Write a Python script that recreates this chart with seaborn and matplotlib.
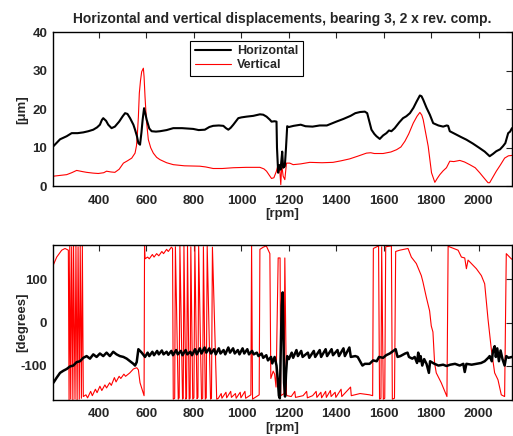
import numpy as np
import pandas as pd
import matplotlib
matplotlib.use("Agg")
import matplotlib.pyplot as plt
import seaborn as sns

# amplitude, horizontal (black) [rpm, um]
h_rpm = [208, 236, 264, 285, 310, 334, 355, 376, 392, 404, 412, 418, 430, 439, 453, 467, 485, 500, 510,
         520, 531, 545, 552, 560, 566, 573, 579, 584, 590, 595, 601, 612, 622, 640, 657, 685, 713, 750,
         797, 820, 846, 865, 881, 905, 924, 935, 945, 955, 966, 987, 1000, 1022, 1050, 1078, 1092, 1106,
         1120, 1127, 1140, 1148, 1150, 1155, 1160, 1165, 1169, 1172, 1176, 1180, 1183, 1188, 1193, 1200,
         1220, 1250, 1270, 1300, 1330, 1360, 1400, 1430, 1460, 1480, 1500, 1520, 1530, 1548, 1560, 1569,
         1583, 1597, 1611, 1622, 1632, 1646, 1665, 1681, 1695, 1710, 1725, 1738, 1752, 1759, 1766, 1780,
         1794, 1808, 1830, 1850, 1865, 1871, 1878, 1900, 1925, 1948, 1975, 2004, 2025, 2046, 2060, 2074,
         2090, 2102, 2112, 2124, 2132, 2140]
h_amp = [10.4, 12.2, 13.0, 13.8, 13.8, 14.0, 14.3, 14.7, 15.3, 16.0, 17.2, 17.7, 17.0, 16.0, 15.1, 15.5,
         16.8, 18.2, 19.0, 18.8, 17.7, 16.0, 14.7, 13.0, 11.2, 10.8, 14.0, 17.3, 20.3, 19.0, 17.3, 15.0,
         14.3, 14.2, 14.3, 14.6, 15.1, 15.1, 14.9, 14.6, 14.7, 15.4, 15.7, 15.8, 15.7, 15.1, 14.7, 15.2,
         16.0, 17.7, 17.9, 18.1, 18.3, 18.7, 18.6, 18.1, 17.3, 16.8, 16.9, 16.8, 10.0, 3.5, 5.5, 4.3, 7.0,
         9.0, 4.8, 5.0, 5.2, 10.0, 15.6, 15.4, 15.7, 16.0, 15.6, 15.5, 15.8, 15.8, 16.8, 17.5, 18.3, 19.0,
         19.3, 19.4, 19.0, 14.7, 13.6, 13.0, 12.3, 13.2, 13.8, 14.5, 14.3, 15.1, 16.6, 17.7, 18.2, 19.0,
         20.4, 22.0, 23.6, 23.4, 22.5, 20.4, 18.6, 16.4, 15.8, 15.5, 15.8, 15.7, 14.3, 13.6, 12.8, 12.1,
         11.1, 9.9, 9.0, 7.8, 8.4, 9.1, 9.6, 10.4, 11.2, 13.8, 14.2, 15.1]

# amplitude, vertical (red) [rpm, um]
v_rpm = [208, 236, 264, 285, 306, 330, 348, 375, 397, 420, 432, 450, 467, 485, 503, 520, 538, 552, 558,
         562, 566, 570, 575, 580, 587, 590, 594, 600, 608, 618, 629, 643, 657, 685, 713, 760, 825, 850,
         881, 920, 966, 1020, 1078, 1095, 1106, 1118, 1127, 1137, 1147, 1155, 1162, 1166, 1170, 1176, 1183,
         1190, 1204, 1218, 1250, 1288, 1340, 1386, 1420, 1456, 1490, 1527, 1545, 1560, 1597, 1630, 1654,
         1672, 1689, 1705, 1724, 1740, 1752, 1760, 1766, 1776, 1787, 1801, 1815, 1825, 1836, 1850, 1864,
         1878, 1895, 1920, 1940, 1962, 1985, 2004, 2020, 2039, 2046, 2060, 2074, 2092, 2109, 2125, 2140]
v_amp = [2.6, 2.8, 3.0, 3.5, 4.1, 3.8, 3.6, 3.4, 3.3, 3.5, 3.9, 3.7, 3.6, 4.4, 6.0, 6.6, 7.3, 8.6, 10.5,
         13.8, 18.0, 24.2, 27.5, 29.8, 30.7, 28.5, 23.3, 17.0, 12.1, 10.0, 8.6, 7.5, 6.9, 6.1, 5.6, 5.3,
         5.2, 5.0, 4.6, 4.6, 4.8, 4.9, 4.9, 4.5, 3.9, 2.8, 2.0, 2.2, 3.8, 5.6, 3.9, 0.4, 5.6, 2.6, 1.7, 6.0,
         6.0, 5.6, 5.8, 6.2, 6.1, 6.2, 6.6, 7.1, 7.8, 8.6, 8.7, 8.5, 8.5, 8.9, 9.5, 10.2, 11.7, 13.6, 16.4,
         18.2, 19.2, 18.5, 17.3, 14.0, 10.4, 3.5, 1.0, 2.0, 3.0, 4.0, 4.8, 6.5, 6.4, 6.7, 6.3, 5.6, 4.8,
         3.5, 2.3, 0.9, 0.9, 2.4, 3.9, 5.6, 7.3, 7.9, 8.0]

# phase, horizontal (black) [rpm, deg]
hp_rpm = [208, 222, 236, 250, 264, 278, 292, 306, 320, 334, 348, 362, 376, 390, 404, 418, 432, 446, 460,
          474, 488, 503, 517, 531, 545, 552, 559, 566, 573, 580, 594, 605, 612, 625, 632, 645, 652, 665,
          672, 685, 692, 705, 712, 725, 732, 745, 752, 765, 772, 785, 792, 805, 812, 825, 832, 845, 852,
          865, 872, 885, 892, 905, 912, 925, 932, 945, 952, 965, 972, 985, 992, 1005, 1012, 1025, 1032,
          1045, 1052, 1065, 1072, 1085, 1092, 1105, 1112, 1125, 1130, 1140, 1148, 1153, 1158, 1162, 1166,
          1170, 1174, 1177, 1180, 1184, 1188, 1193, 1200, 1212, 1218, 1232, 1238, 1252, 1258, 1280, 1286,
          1305, 1311, 1330, 1336, 1355, 1361, 1380, 1386, 1405, 1411, 1430, 1436, 1455, 1461, 1480, 1490,
          1500, 1510, 1520, 1540, 1555, 1570, 1580, 1597, 1610, 1625, 1640, 1650, 1658, 1670, 1690, 1700,
          1706, 1720, 1730, 1740, 1745, 1750, 1755, 1762, 1770, 1780, 1790, 1795, 1810, 1830, 1850, 1864,
          1880, 1900, 1920, 1935, 1941, 1948, 1970, 1990, 2010, 2025, 2040, 2046, 2055, 2060, 2067, 2072,
          2078, 2085, 2092, 2100, 2109, 2116, 2125, 2140]
hp_deg = [-140, -128, -117, -112, -108, -102, -100, -92, -90, -82, -78, -84, -74, -80, -72, -78, -70, -78,
          -68, -74, -78, -80, -84, -90, -96, -100, -92, -62, -66, -70, -80, -70, -78, -68, -76, -66, -74,
          -65, -74, -68, -75, -66, -76, -64, -74, -66, -76, -64, -74, -68, -76, -62, -74, -60, -72, -58,
          -70, -60, -72, -62, -74, -60, -72, -64, -74, -58, -70, -60, -72, -64, -74, -60, -72, -62, -74,
          -66, -74, -70, -78, -72, -82, -76, -88, -80, -95, -80, -100, -130, -170, -176, -60, 40, 70, -20,
          -140, -172, -120, -78, -85, -70, -82, -64, -78, -66, -80, -70, -82, -66, -80, -64, -80, -62, -78,
          -62, -76, -64, -78, -60, -78, -58, -80, -78, -80, -90, -100, -96, -96, -88, -90, -80, -82, -76,
          -72, -66, -62, -80, -78, -72, -70, -80, -84, -80, -94, -70, -90, -78, -100, -85, -96, -117, -90,
          -95, -100, -98, -101, -98, -96, -100, -96, -115, -96, -98, -96, -94, -90, -82, -78, -90, -66, -55,
          -80, -60, -90, -65, -85, -100, -78, -82, -80]

# phase, vertical (red) [rpm, deg]
vp_rpm = [208, 222, 243, 257, 271, 274, 277, 281, 285, 290, 293, 299, 303, 308, 312, 317, 321, 326, 330,
          334, 345, 352, 365, 372, 385, 392, 404, 412, 425, 432, 445, 452, 465, 472, 485, 492, 505, 512,
          530, 545, 559, 566, 573, 586, 590, 592, 594, 605, 612, 625, 632, 643, 652, 665, 672, 685, 692,
          705, 710, 713, 719, 722, 734, 738, 741, 752, 755, 758, 766, 769, 773, 780, 784, 787, 795, 800,
          804, 813, 817, 820, 832, 837, 840, 848, 852, 856, 870, 874, 878, 896, 903, 915, 918, 935, 938,
          955, 958, 975, 978, 995, 998, 1015, 1018, 1040, 1043, 1047, 1075, 1078, 1092, 1105, 1110, 1120,
          1124, 1134, 1140, 1146, 1155, 1163, 1166, 1180, 1183, 1190, 1193, 1210, 1225, 1228, 1260, 1275,
          1278, 1300, 1315, 1318, 1335, 1338, 1355, 1358, 1375, 1378, 1395, 1398, 1420, 1423, 1460, 1463,
          1500, 1540, 1553, 1556, 1578, 1582, 1588, 1591, 1598, 1604, 1608, 1632, 1636, 1645, 1650, 1667,
          1702, 1716, 1737, 1758, 1765, 1779, 1793, 1800, 1807, 1814, 1821, 1842, 1866, 1871, 1876, 1913,
          1927, 1941, 1948, 1955, 1990, 2011, 2025, 2039, 2053, 2067, 2081, 2088, 2095, 2109, 2116, 2137,
          2140]
vp_deg = [134, 152, 168, 172, 168, -180, 178, -178, 176, -180, 178, -178, 177, -180, 176, -178, 178, -176,
          178, -172, -168, -175, -160, -170, -155, -163, -148, -158, -145, -152, -140, -146, -128, -138,
          -125, -130, -120, -125, -117, -108, -105, -110, -140, -163, -170, 178, 148, 152, 148, 158, 152,
          160, 155, 165, 160, 170, 165, 175, 172, -178, -176, 176, -178, -175, 178, -178, -176, 178, -178,
          -174, 177, -178, -176, 176, -178, -175, 178, -177, -174, 177, -178, -176, 176, -178, -175, 177,
          -178, -176, 175, -178, -176, -165, -176, -162, -175, -160, -174, -165, -176, -162, -175, -160,
          -176, -168, 178, -178, -168, 170, 175, 178, 172, 160, -130, -113, -120, -150, 150, 150, -170,
          -165, 150, -168, -170, -172, -160, -174, -170, -160, -175, -170, -160, -174, -162, -175, -160,
          -174, -158, -172, -162, -174, -155, -172, -150, -170, -165, -168, -170, 172, 178, -178, -176,
          176, -178, -176, 176, 178, -178, -176, 165, 168, 172, 152, 137, 109, 94, 59, 27, -8, -22, -94,
          -117, -140, -172, 178, 176, 168, 152, 150, 125, 145, 125, 109, 90, 8, -62, -117, -133, -150, -168,
          -172, 160, 148, 147]

amp = pd.concat([
    pd.DataFrame({"rpm": h_rpm, "val": h_amp, "dir": "Horizontal"}),
    pd.DataFrame({"rpm": v_rpm, "val": v_amp, "dir": "Vertical"}),
])
phase = pd.concat([
    pd.DataFrame({"rpm": hp_rpm, "val": hp_deg, "dir": "Horizontal"}),
    pd.DataFrame({"rpm": vp_rpm, "val": vp_deg, "dir": "Vertical"}),
])

sns.set_style("white")
plt.rcParams["font.family"] = ["Liberation Sans", "DejaVu Sans"]
plt.rcParams["font.weight"] = "bold"
plt.rcParams["axes.labelweight"] = "bold"
plt.rcParams["axes.titleweight"] = "bold"
plt.rcParams["font.size"] = 9.5
plt.rcParams["axes.unicode_minus"] = False

pal = {"Horizontal": "black", "Vertical": "red"}

fig = plt.figure(figsize=(5.13, 4.36), dpi=100)
ax1 = fig.add_axes([0.1027, 0.573, 0.8953, 0.3525])
ax2 = fig.add_axes([0.1027, 0.0826, 0.8953, 0.3554])

for ax, df, blw in [(ax1, amp, 1.5), (ax2, phase, 1.8)]:
    for name in ["Vertical", "Horizontal"]:
        sub = df[df["dir"] == name]
        sns.lineplot(data=sub, x="rpm", y="val", color=pal[name],
                     lw=blw if name == "Horizontal" else 0.8,
                     sort=False, estimator=None, ax=ax, label=name,
                     zorder=3 if name == "Horizontal" else 2)
    ax.set_xlim(205, 2140)
    ax.set_xticks(range(400, 2001, 200))
    ax.set_xlabel("[rpm]", labelpad=1)
    ax.tick_params(direction="in", top=True, right=True, length=4, width=0.8, pad=6)
    ax.tick_params(axis="y", pad=4)
    ax.yaxis.set_label_coords(-0.054, 0.5)
    for s in ax.spines.values():
        s.set_linewidth(1.0)
        s.set_color("black")

ax1.set_ylim(0, 40)
ax1.set_yticks([0, 10, 20, 30, 40])
ax1.set_ylabel("[\u03bcm]")
ax1.set_title("Horizontal and vertical displacements, bearing 3, 2 x rev. comp.", pad=6.5, fontsize=10)
handles, labels = ax1.get_legend_handles_labels()
order = [labels.index("Horizontal"), labels.index("Vertical")]
ax1.legend([handles[i] for i in order], [labels[i] for i in order],
           loc="upper left", bbox_to_anchor=(0.30, 0.945), frameon=True, fancybox=False,
           edgecolor="black", framealpha=1, borderpad=0.35, handlelength=2.9, handletextpad=0.5,
           labelspacing=0.15, borderaxespad=0, fontsize=9)
ax1.get_legend().get_frame().set_linewidth(0.8)

ax2.set_ylim(-180, 180)
ax2.set_yticks([-100, 0, 100])
ax2.set_ylabel("[degrees]")
ax2.get_legend().remove()

fig.savefig("out.png", dpi=100)
